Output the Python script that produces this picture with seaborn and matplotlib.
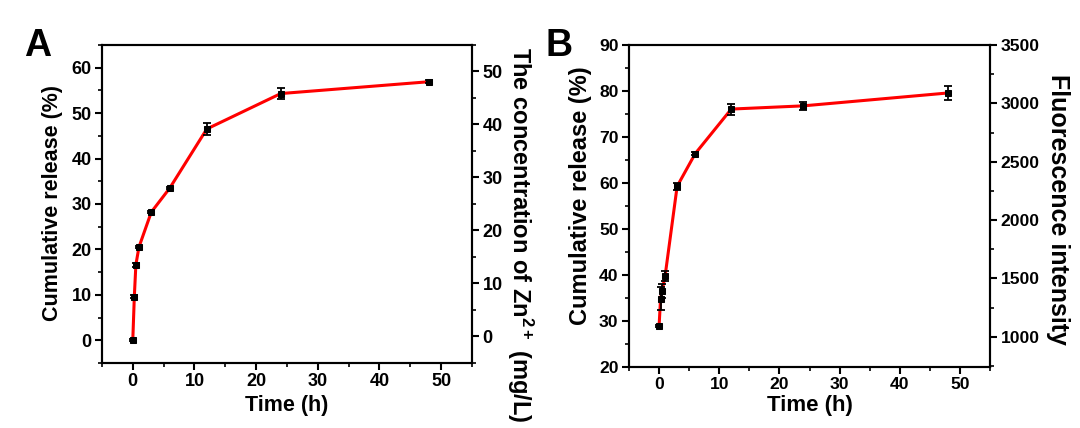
import numpy as np
import pandas as pd
import seaborn as sns
import matplotlib
matplotlib.use("Agg")
import matplotlib.pyplot as plt
from matplotlib.ticker import MultipleLocator

# ---- data ----
time_h = [0, 0.25, 0.5, 1, 3, 6, 12, 24, 48]
release_A = [0.0, 9.6, 16.6, 20.5, 28.2, 33.5, 46.5, 54.3, 56.9]
err_A = [0.2, 0.4, 0.4, 0.3, 0.3, 0.3, 1.3, 1.2, 0.3]
release_B = [28.9, 34.9, 36.6, 39.8, 59.3, 66.4, 76.1, 76.8, 79.6]
err_B = [0.3, 2.4, 1.5, 1.1, 0.7, 0.3, 1.2, 0.8, 1.5]

sns.set_theme(style="ticks")
plt.rcParams['font.family'] = ['Liberation Sans', 'DejaVu Sans']
plt.rcParams['font.weight'] = 'bold'
plt.rcParams['axes.labelweight'] = 'bold'
plt.rcParams['text.color'] = 'black'
plt.rcParams['axes.labelcolor'] = 'black'
plt.rcParams['xtick.color'] = 'black'
plt.rcParams['ytick.color'] = 'black'
plt.rcParams['mathtext.fontset'] = 'custom'
plt.rcParams['mathtext.rm'] = 'Liberation Sans:bold'
plt.rcParams['mathtext.bf'] = 'Liberation Sans:bold'
plt.rcParams['mathtext.default'] = 'bf'

fig = plt.figure(figsize=(10.8, 4.28), dpi=100)
axA = fig.add_axes([0.0944, 0.152, 0.3426, 0.743])
axB = fig.add_axes([0.5824, 0.1425, 0.3343, 0.752])

def style_axis(ax, size):
    for s in ax.spines.values():
        s.set_linewidth(1.5)
        s.set_color('black')
    ax.tick_params(which='major', direction='out', length=5, width=1.5,
                   labelsize=size, colors='black', top=False, pad=2.5)
    ax.tick_params(which='minor', direction='out', length=3, width=1.2, top=False)
    for lab in ax.get_xticklabels() + ax.get_yticklabels():
        lab.set_fontweight('bold')

def draw(ax, x, y, e):
    df = pd.DataFrame({'t': x, 'r': y})
    sns.lineplot(data=df, x='t', y='r', ax=ax, color='red', lw=2.2,
                 marker='s', markersize=4, markerfacecolor='black',
                 markeredgecolor='black', zorder=3)
    ax.errorbar(x, y, yerr=e, fmt='none', ecolor='black', elinewidth=1.3,
                capsize=3, capthick=1.3, zorder=4)

# Panel A
draw(axA, time_h, release_A, err_A)
axA.set_xlim(-5, 55)
axA.set_ylim(-5, 65)
axA.xaxis.set_major_locator(MultipleLocator(10))
axA.xaxis.set_minor_locator(MultipleLocator(5))
axA.yaxis.set_major_locator(MultipleLocator(10))
axA.yaxis.set_minor_locator(MultipleLocator(5))
axA.set_xlabel('Time (h)', fontsize=15.5, fontweight='bold', labelpad=3)
axA.set_ylabel('')
style_axis(axA, 13)
fig.text(53 / 1080, 1 - 203 / 428, 'Cumulative release (%)', fontsize=15.5,
         fontweight='bold', rotation=90, ha='center', va='center', color='black')
axA2 = axA.twinx()
axA2.set_ylim(-5, 55)
axA2.yaxis.set_major_locator(MultipleLocator(10))
axA2.yaxis.set_minor_locator(MultipleLocator(5))
style_axis(axA2, 13)
fig.text(520 / 1080, 1 - 47 / 428, 'The concentration of Zn$^{2+}$ (mg/L)', fontsize=17,
         fontweight='bold', rotation=270, ha='center', va='top', color='black')

# Panel B
draw(axB, time_h, release_B, err_B)
axB.set_xlim(-5, 55)
axB.set_ylim(20, 90)
axB.xaxis.set_major_locator(MultipleLocator(10))
axB.xaxis.set_minor_locator(MultipleLocator(5))
axB.yaxis.set_major_locator(MultipleLocator(10))
axB.yaxis.set_minor_locator(MultipleLocator(5))
axB.set_xlabel('Time (h)', fontsize=16, fontweight='bold', labelpad=2)
axB.set_ylabel('')
style_axis(axB, 12.6)
fig.text(580 / 1080, 1 - 196 / 428, 'Cumulative release (%)', fontsize=17,
         fontweight='bold', rotation=90, ha='center', va='center', color='black')
axB2 = axB.twinx()
axB2.set_ylim(740, 3500)
axB2.yaxis.set_major_locator(MultipleLocator(500))
axB2.yaxis.set_minor_locator(MultipleLocator(250))
style_axis(axB2, 12.6)
fig.text(1058 / 1080, 1 - 209 / 428, 'Fluorescence intensity', fontsize=18,
         fontweight='bold', rotation=270, ha='center', va='center', color='black')

fig.text(0.022, 0.87, 'A', fontsize=27, fontweight='bold', color='black')
fig.text(0.505, 0.87, 'B', fontsize=27, fontweight='bold', color='black')

fig.savefig('out.png', dpi=100, facecolor='white')
